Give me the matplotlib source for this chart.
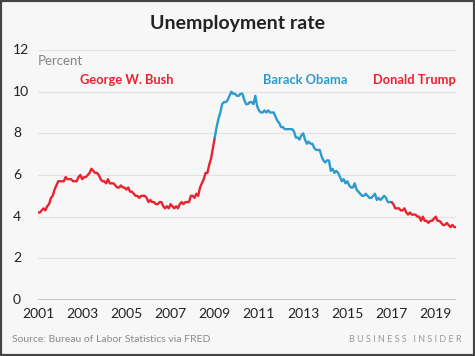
import matplotlib.pyplot as plt
import numpy as np
from matplotlib.patches import Rectangle

# Monthly unemployment rate (%), Jan 2001 - Dec 2019
rate_2001 = [4.2, 4.2, 4.3, 4.4, 4.3, 4.5, 4.6, 4.9, 5.0, 5.3, 5.5, 5.7]
rate_2002 = [5.7, 5.7, 5.7, 5.9, 5.8, 5.8, 5.8, 5.7, 5.7, 5.7, 5.9, 6.0]
rate_2003 = [5.8, 5.9, 5.9, 6.0, 6.1, 6.3, 6.2, 6.1, 6.1, 6.0, 5.8, 5.7]
rate_2004 = [5.7, 5.6, 5.8, 5.6, 5.6, 5.6, 5.5, 5.4, 5.4, 5.5, 5.4, 5.4]
rate_2005 = [5.3, 5.4, 5.2, 5.2, 5.1, 5.0, 5.0, 4.9, 5.0, 5.0, 5.0, 4.9]
rate_2006 = [4.7, 4.8, 4.7, 4.7, 4.6, 4.6, 4.7, 4.7, 4.5, 4.4, 4.5, 4.4]
rate_2007 = [4.6, 4.5, 4.4, 4.5, 4.4, 4.6, 4.7, 4.6, 4.7, 4.7, 4.7, 5.0]
rate_2008 = [5.0, 4.9, 5.1, 5.0, 5.4, 5.6, 5.8, 6.1, 6.1, 6.5, 6.8, 7.3]
rate_2009 = [7.8, 8.3, 8.7, 9.0, 9.4, 9.5, 9.5, 9.6, 9.8, 10.0, 9.9, 9.9]
rate_2010 = [9.8, 9.8, 9.9, 9.9, 9.6, 9.4, 9.4, 9.5, 9.5, 9.4, 9.8, 9.3]
rate_2011 = [9.1, 9.0, 9.0, 9.1, 9.0, 9.1, 9.0, 9.0, 9.0, 8.8, 8.6, 8.5]
rate_2012 = [8.3, 8.3, 8.2, 8.2, 8.2, 8.2, 8.2, 8.1, 7.8, 7.8, 7.7, 7.9]
rate_2013 = [8.0, 7.7, 7.5, 7.6, 7.5, 7.5, 7.3, 7.2, 7.2, 7.2, 6.9, 6.7]
rate_2014 = [6.6, 6.7, 6.7, 6.2, 6.3, 6.1, 6.2, 6.1, 5.9, 5.7, 5.8, 5.6]
rate_2015 = [5.7, 5.5, 5.4, 5.4, 5.6, 5.3, 5.2, 5.1, 5.0, 5.0, 5.1, 5.0]
rate_2016 = [4.9, 4.9, 5.0, 5.1, 4.8, 4.9, 4.8, 4.9, 5.0, 4.9, 4.7, 4.7]
rate_2017 = [4.7, 4.6, 4.4, 4.4, 4.4, 4.3, 4.3, 4.4, 4.2, 4.1, 4.2, 4.1]
rate_2018 = [4.1, 4.1, 4.0, 4.0, 3.8, 4.0, 3.8, 3.8, 3.7, 3.8, 3.8, 3.9]
rate_2019 = [4.0, 3.8, 3.8, 3.7, 3.6, 3.6, 3.7, 3.6, 3.5, 3.6, 3.5, 3.5]

years = list(range(2001, 2020))
presidents = ["George W. Bush", "Barack Obama", "Donald Trump"]
term_starts = [2001, 2009, 2017]
x_ticks = list(range(2001, 2020, 2))
y_ticks = [0, 2, 4, 6, 8, 10, 12]

rates = np.array(rate_2001 + rate_2002 + rate_2003 + rate_2004 + rate_2005
                 + rate_2006 + rate_2007 + rate_2008 + rate_2009 + rate_2010
                 + rate_2011 + rate_2012 + rate_2013 + rate_2014 + rate_2015
                 + rate_2016 + rate_2017 + rate_2018 + rate_2019)
dates = years[0] + np.arange(len(rates)) / 12

RED = '#e8232f'
BLUE = '#2b9bcf'
BG = '#f7f7f7'
colors = [RED, BLUE, RED]

plt.rcParams['font.family'] = ['Lato', 'DejaVu Sans']

fig = plt.figure(figsize=(4.75, 3.56), dpi=100, facecolor=BG)
ax = fig.add_axes([38 / 475, 1 - 300 / 356, 418 / 475, 250 / 356])
ax.set_facecolor(BG)

# one segment per presidency, overlapping at the handover month
bounds = term_starts[1:] + [years[-1] + 1]
for start, end, c in zip(term_starts, bounds, colors):
    m = (dates >= start - 1e-9) & (dates <= end + 1e-9)
    ax.plot(dates[m], rates[m], color=c, lw=1.7, solid_capstyle='round', zorder=3)

ax.set_xlim(2001, dates[-1])
ax.set_ylim(0, 12)
ax.set_xticks(x_ticks)
ax.set_xticklabels([str(y) for y in x_ticks])
ax.set_yticks(y_ticks)
ax.set_yticklabels([])
for y in y_ticks:
    ax.text(-25 / 418, y / 12, str(y), transform=ax.transAxes, ha='left', va='center',
            fontsize=10, color='#222222')
ax.grid(axis='y', color='#e2e2e2', lw=0.8)
ax.axhline(0, color='#bdbdbd', lw=1.2, zorder=2)
for s in ax.spines.values():
    s.set_visible(False)
ax.tick_params(axis='both', length=0, labelsize=10, colors='#222222')
ax.tick_params(axis='x', pad=6)

ax.text(2001, 11.75, 'Percent', va='top', ha='left', fontsize=9.5, color='#858585')
ax.text(2005.0, 10.55, presidents[0], ha='center', va='center', fontsize=9.3,
        fontweight='bold', color=RED)
ax.text(2013.1, 10.55, presidents[1], ha='center', va='center', fontsize=9.3,
        fontweight='bold', color=BLUE)
ax.text(dates[-1], 10.55, presidents[2], ha='right', va='center', fontsize=9.3,
        fontweight='bold', color=RED)

fig.text(0.5, 1 - 23 / 356, 'Unemployment rate', ha='center', va='center',
         fontsize=14, fontweight='bold', color='#222222')
fig.text(12 / 475, 1 - 339 / 356, 'Source: Bureau of Labor Statistics via FRED',
         ha='left', va='center', fontsize=7.5, color='#8a8a8a')
fig.text(462 / 475, 1 - 339 / 356, 'B U S I N E S S   I N S I D E R',
         ha='right', va='center', fontsize=6.5, color='#9a9a9a')

fig.patches.append(Rectangle((0, 0), 1, 1, transform=fig.transFigure, fill=False,
                             edgecolor='#444444', lw=3, zorder=10))

fig.savefig('out.png', dpi=100, facecolor=BG)
